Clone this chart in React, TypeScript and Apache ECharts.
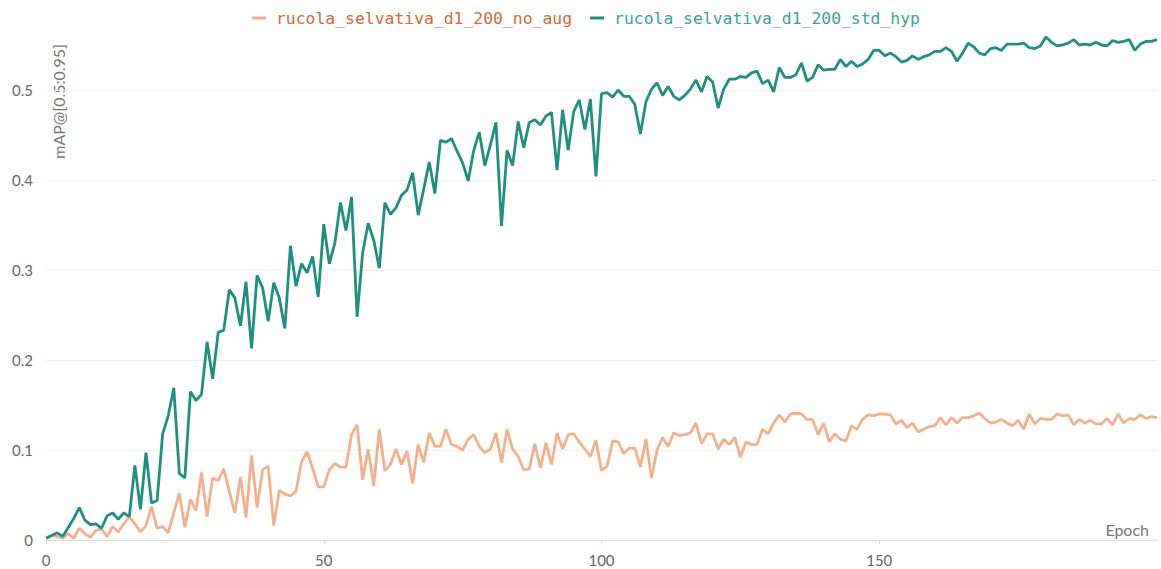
import React, { useEffect, useRef } from "react";
import * as echarts from "echarts";

const seriesNames = ["rucola_selvativa_d1_200_no_aug", "rucola_selvativa_d1_200_std_hyp"];

const noAug = [
  0.002, 0.005, 0.004, 0.002, 0.007, 0.002, 0.013, 0.007, 0.003, 0.011,
  0.012, 0.004, 0.015, 0.009, 0.018, 0.026, 0.018, 0.009, 0.016, 0.037,
  0.013, 0.015, 0.008, 0.030, 0.052, 0.014, 0.045, 0.033, 0.075, 0.026,
  0.069, 0.066, 0.079, 0.054, 0.030, 0.070, 0.025, 0.094, 0.036, 0.078,
  0.082, 0.016, 0.055, 0.051, 0.049, 0.054, 0.087, 0.098, 0.080, 0.059,
  0.059, 0.078, 0.085, 0.081, 0.081, 0.117, 0.128, 0.067, 0.101, 0.060,
  0.123, 0.077, 0.084, 0.101, 0.084, 0.099, 0.063, 0.106, 0.086, 0.119,
  0.104, 0.104, 0.123, 0.106, 0.104, 0.100, 0.112, 0.117, 0.104, 0.097,
  0.101, 0.119, 0.086, 0.123, 0.101, 0.093, 0.078, 0.079, 0.107, 0.080,
  0.108, 0.084, 0.119, 0.101, 0.117, 0.118, 0.109, 0.101, 0.093, 0.111,
  0.077, 0.082, 0.110, 0.109, 0.096, 0.102, 0.102, 0.081, 0.112, 0.069,
  0.100, 0.114, 0.104, 0.119, 0.116, 0.117, 0.119, 0.130, 0.107, 0.118,
  0.118, 0.101, 0.112, 0.106, 0.114, 0.092, 0.109, 0.106, 0.106, 0.123,
  0.118, 0.130, 0.139, 0.131, 0.140, 0.141, 0.140, 0.134, 0.134, 0.117,
  0.130, 0.109, 0.118, 0.112, 0.110, 0.127, 0.123, 0.134, 0.139, 0.138,
  0.140, 0.140, 0.139, 0.129, 0.133, 0.125, 0.130, 0.120, 0.123, 0.126,
  0.127, 0.136, 0.128, 0.136, 0.130, 0.136, 0.136, 0.138, 0.141, 0.135,
  0.130, 0.131, 0.134, 0.130, 0.127, 0.133, 0.123, 0.140, 0.129, 0.135,
  0.134, 0.134, 0.140, 0.138, 0.139, 0.128, 0.134, 0.130, 0.133, 0.129,
  0.129, 0.135, 0.128, 0.140, 0.130, 0.135, 0.134, 0.139, 0.135, 0.137,
  0.136,
];

const stdHyp = [
  0.002, 0.005, 0.008, 0.004, 0.014, 0.024, 0.036, 0.022, 0.017, 0.018,
  0.013, 0.027, 0.030, 0.023, 0.030, 0.026, 0.083, 0.034, 0.097, 0.041,
  0.044, 0.118, 0.138, 0.169, 0.074, 0.069, 0.165, 0.155, 0.162, 0.220,
  0.179, 0.231, 0.233, 0.278, 0.269, 0.238, 0.287, 0.213, 0.294, 0.280,
  0.243, 0.286, 0.269, 0.235, 0.327, 0.282, 0.307, 0.297, 0.315, 0.270,
  0.351, 0.307, 0.330, 0.375, 0.344, 0.381, 0.248, 0.319, 0.352, 0.333,
  0.302, 0.375, 0.362, 0.369, 0.383, 0.389, 0.408, 0.361, 0.390, 0.420,
  0.385, 0.444, 0.442, 0.446, 0.432, 0.419, 0.399, 0.433, 0.453, 0.416,
  0.439, 0.464, 0.349, 0.433, 0.416, 0.465, 0.436, 0.464, 0.467, 0.461,
  0.471, 0.475, 0.411, 0.478, 0.433, 0.476, 0.489, 0.456, 0.490, 0.404,
  0.496, 0.497, 0.492, 0.500, 0.493, 0.493, 0.484, 0.451, 0.487, 0.501,
  0.508, 0.494, 0.504, 0.493, 0.489, 0.494, 0.501, 0.511, 0.498, 0.515,
  0.509, 0.480, 0.501, 0.512, 0.512, 0.515, 0.514, 0.519, 0.521, 0.507,
  0.511, 0.498, 0.525, 0.514, 0.514, 0.517, 0.530, 0.510, 0.514, 0.528,
  0.522, 0.523, 0.523, 0.534, 0.526, 0.532, 0.526, 0.529, 0.534, 0.544,
  0.544, 0.538, 0.541, 0.537, 0.531, 0.533, 0.538, 0.534, 0.537, 0.539,
  0.543, 0.543, 0.547, 0.543, 0.532, 0.541, 0.552, 0.548, 0.541, 0.539,
  0.546, 0.547, 0.544, 0.551, 0.551, 0.551, 0.552, 0.547, 0.546, 0.549,
  0.559, 0.553, 0.549, 0.550, 0.552, 0.556, 0.550, 0.551, 0.550, 0.553,
  0.550, 0.549, 0.555, 0.553, 0.554, 0.556, 0.544, 0.551, 0.554, 0.554,
  0.556,
];

const xTicks = [0, 50, 100, 150];
const yTicks = [0, 0.1, 0.2, 0.3, 0.4, 0.5];

const lineColors = ["#f4b08c", "#1f9080"];
const legendTextColors = ["#d4683a", "#3aa494"];

export default function App() {
  const ref = useRef<HTMLDivElement>(null);

  useEffect(() => {
    if (!ref.current) return;
    const chart = echarts.init(ref.current, undefined, { renderer: "svg" });
    const toPairs = (arr: number[]) => arr.map((v, i) => [i, v]);
    const labelFont = "Lato, 'Noto Sans', sans-serif";
    chart.setOption({
      animation: false,
      backgroundColor: "#ffffff",
      grid: { left: 46, right: 4, top: 31.5, bottom: 29, containLabel: false },
      legend: {
        top: 10,
        left: 252,
        padding: 0,
        itemGap: 18,
        itemWidth: 14,
        itemHeight: 3,
        icon: "rect",
        data: seriesNames.map((n, i) => ({
          name: n,
          textStyle: { color: legendTextColors[i] },
        })),
        textStyle: {
          fontFamily: "'DejaVu Sans Mono', monospace",
          fontSize: 16.4,
          padding: [0, 0, 0, 5],
        },
      },
      xAxis: {
        type: "value",
        min: 0,
        max: 200,
        interval: 50,
        axisLine: { show: true, lineStyle: { color: "#dddddd", width: 1 } },
        axisTick: { show: true, length: 4, lineStyle: { color: "#dddddd" } },
        splitLine: { show: false },
        axisLabel: {
          color: "#666666",
          fontSize: 15,
          fontFamily: labelFont,
          margin: 12,
          showMaxLabel: false,
          formatter: (v: number) => (xTicks.includes(v) ? String(v) : ""),
        },
      },
      yAxis: {
        type: "value",
        min: 0,
        max: 0.565,
        interval: 0.1,
        axisLine: { show: false },
        axisTick: { show: false },
        splitLine: { show: true, showMaxLine: false, lineStyle: { color: "#f0f0f0", width: 1 } },
        axisLabel: {
          color: "#666666",
          fontSize: 15,
          fontFamily: labelFont,
          margin: 13,
          showMaxLabel: false,
          formatter: (v: number) => {
            const t = yTicks.find((y) => Math.abs(y - v) < 1e-9);
            return t === undefined ? "" : t === 0 ? "0" : String(t);
          },
        },
      },
      graphic: [
        {
          type: "text",
          x: 58,
          y: 44,
          rotation: Math.PI / 2,
          style: {
            text: "mAP@[0.5:0.95]",
            fill: "#777777",
            font: "16px Lato, 'Noto Sans', sans-serif",
            align: "right",
            verticalAlign: "middle",
          },
        },
        {
          type: "text",
          x: 1149,
          y: 529,
          style: {
            text: "Epoch",
            fill: "#777777",
            font: "16px Lato, 'Noto Sans', sans-serif",
            align: "right",
            verticalAlign: "middle",
          },
        },
      ],
      series: [
        {
          name: seriesNames[0],
          type: "line",
          data: toPairs(noAug),
          showSymbol: false,
          symbol: "none",
          lineStyle: { color: lineColors[0], width: 2.8 },
          itemStyle: { color: lineColors[0] },
          z: 2,
        },
        {
          name: seriesNames[1],
          type: "line",
          data: toPairs(stdHyp),
          showSymbol: false,
          symbol: "none",
          lineStyle: { color: lineColors[1], width: 2.8 },
          itemStyle: { color: lineColors[1] },
          z: 3,
        },
      ],
    });
    return () => chart.dispose();
  }, []);

  return (
    <div
      ref={ref}
      style={{ position: "fixed", left: 0, top: 0, width: 1161, height: 569 }}
    />
  );
}
